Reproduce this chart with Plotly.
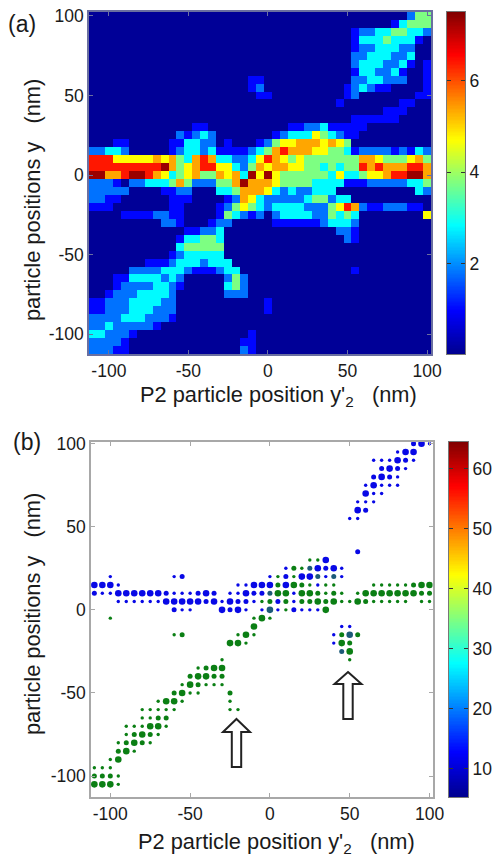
import plotly.graph_objects as go

W, H = 495, 857
FONT = "Liberation Sans"

# Heat map of panel (a): one string per row from y=100 (top) to y=-110, columns x=-110..100
heat_rows = [
 "..... ..... ..... ..... ..... ..... ..... ..... 244",
 "..... ..... ..... ..... ..... ..... ..... ...13 444",
 "..... ..... ..... ..... ..... ..... ...12 23344 332",
 "..... ..... ..... ..... ..... ..... ...13 33433 31.",
 "..... ..... ..... ..... ..... ..... ...12 23332 2..",
 "..... ..... ..... ..... ..... ..... ...22 33322 3..",
 "..... ..... ..... ..... ..... ..... ...23 33223 1.1",
 "..... ..... ..... ..... ..... ..... ...13 32231 ..1",
 "..... ..... ..... ..... 11... ..... ...22 33222 ..1",
 "..... ..... ..... ..... 12... ..... ..123 211.. ..1",
 "..... ..... ..... ..... .11.. ..... ..12. ..... .11",
 "..... ..... ..... ..... ..... ..... .1... ....1 1..",
 "..... ..... ..... ..... ..... ..... ..... ..111 ...",
 "..... ..... ..... ..... ..... ..... ...11 1111. ...",
 "..... ..... ...11 ..... ..... 11223 11111 ..... ...",
 "..... ..... .2123 2.... ...12 33354 3211. ..... ...",
 "...11 ..... 11332 2.1.. .1245 56665 654.. ..... ...",
 "22332 ..... 12332 31111 23467 66655 44312 22212 132",
 "77755 55565 64367 63322 35765 45444 44446 65444 564",
 "77777 77778 64567 75532 46566 55443 43447 67666 776",
 "88667 88765 34564 46563 85854 44444 35334 55677 886",
 "2221. 22333 46422 24468 66654 44433 33111 22222 334",
 "22222 ....1 122.. .3346 66532 32233 3.... ..... .32",
 "2211. ..... 111.. ..126 53222 22344 233.. ..... ...",
 "111.. ..... 11... .1245 43233 33222 45762 11222 11.",
 "....1 11122 11... .1432 12.23 33322 4343. ..... ..5",
 "..... ....2 21... 122.. ...11 11112 3332. ..... ...",
 "..... ..... ..112 23... ..... ..... .221. ..... ...",
 "..... ..... .1334 43... ..... ..... ..21. ..... ...",
 "..... ..... .3444 44... ..... ..... ..... ..... ...",
 "..... ..... 12333 33... ..... ..... ..... ..... ...",
 "..... ..111 23332 333.. ..... ..... ..... ..... ...",
 "..... 22223 33211 1233. ..... ..... ...1. ..... ...",
 "...11 33332 32... ..242 ..... ..... ..... ..... ...",
 "...12 22233 21... ..342 ..... ..... ..... ..... ...",
 "..122 23333 2.... ..222 ..... ..... ..... ..... ...",
 "11222 33332 2.... ..... ..1.. ..... ..... ..... ...",
 "11222 33322 2.... ..... ..1.. ..... ..... ..... ...",
 "22223 33222 1.... ..... ..... ..... ..... ..... ...",
 "22322 2221. ..... ..... ..... ..... ..... ..... ...",
 "33222 1.... ..... ..... 1.... ..... ..... ..... ...",
 "22221 ..... ..... ....1 1.... ..... ..... ..... ...",
 "22211 ..... ..... ....2 1.... ..... ..... ..... ...",
]
heat_values = {".": 0.1, "1": 1.0, "2": 1.8, "3": 2.8, "4": 3.75, "5": 4.7, "6": 5.35, "7": 6.4, "8": 7.3}
heat_x = list(range(-110, 101, 5))
heat_y = list(range(100, -111, -5))
heat_ticks = [2, 4, 6]
heat_range = [0.03, 7.5]

# Dots of panel (b): y -> [(x, size class)]
blue_dots = [
 (100, [(90,2),(95,3),(100,1)]),
 (95, [(80,1),(85,3),(90,3)]),
 (90, [(65,1),(70,1),(75,1),(80,3),(85,2),(90,1)]),
 (85, [(70,2),(75,3),(80,2),(85,1)]),
 (80, [(65,2),(70,3),(75,2),(80,1)]),
 (75, [(60,1),(65,3),(70,1),(75,1),(80,1)]),
 (70, [(60,3),(65,1),(70,1)]),
 (65, [(55,1),(60,1),(65,1)]),
 (60, [(55,3),(60,2)]),
 (55, [(50,1),(55,1)]),
 (35, [(55,2)]),
 (30, [(35,3)]),
 (25, [(10,1),(30,3),(35,2),(40,3),(45,1)]),
 (20, [(-100,1),(-60,1),(-55,2),(0,1),(10,2),(20,3),(25,3),(35,1),(45,1)]),
 (15, [(-110,3),(-105,3),(-100,3),(-95,1),(-20,1),(-15,1),(-10,3),(-5,3),(0,3),(10,3),(30,1)]),
 (10, [(-110,2),(-105,1),(-100,1),(-95,3),(-90,3),(-85,3),(-80,3),(-75,3),(-70,3),(-65,2),(-60,1),(-55,1),(-50,1),(-45,2),(-40,3),(-35,2),(-25,1),(-20,1),(-15,3),(-10,2),(-5,2),(15,1)]),
 (5, [(-95,1),(-90,1),(-85,1),(-80,1),(-75,1),(-70,1),(-65,3),(-60,3),(-55,3),(-50,3),(-45,3),(-40,2),(-35,3),(-30,1),(-25,3),(-20,2),(-15,2),(-10,1),(5,2),(15,1)]),
 (0, [(-60,2),(-55,1),(-50,1),(-30,3),(-25,2),(-20,3),(-15,1),(-5,1),(5,1),(15,2),(20,1),(25,1),(30,1)]),
 (-10, [(45,1),(50,1)]),
 (-15, [(40,1)]),
 (-20, [(40,1)]),
]
green_dots = [
 (30, [(25,1),(30,1)]),
 (25, [(15,2),(20,1)]),
 (20, [(5,1),(15,1)]),
 (15, [(5,2),(15,3),(20,2),(25,1),(35,1),(40,1),(65,1),(70,1),(75,1),(80,1),(85,1),(90,2),(95,3),(100,3)]),
 (10, [(5,3),(10,3),(20,3),(25,3),(30,2),(35,1),(40,2),(45,1),(55,1),(60,3),(65,3),(70,3),(75,3),(80,3),(85,3),(90,3),(95,2),(100,2)]),
 (5, [(-5,1),(0,2),(10,2),(20,2),(25,2),(30,3),(35,2),(40,3),(45,1),(50,1),(55,3),(60,2),(65,1),(70,1),(75,1),(80,1),(85,1),(95,1),(100,1)]),
 (0, [(10,1),(35,3)]),
 (-5, [(-100,1),(-10,1),(-5,3),(0,1)]),
 (-10, [(-10,3)]),
 (-15, [(-60,1),(-55,2),(-20,1),(-15,3),(-10,1),(45,2),(55,2)]),
 (-20, [(-25,3),(-20,3),(-15,1),(45,3),(50,2)]),
 (-25, [(50,3)]),
 (-30, [(-30,1),(50,1)]),
 (-35, [(-45,1),(-40,2),(-35,3),(-30,3)]),
 (-40, [(-50,2),(-45,3),(-40,3),(-35,2),(-30,2)]),
 (-45, [(-55,1),(-50,3),(-45,2),(-40,1),(-35,1),(-30,1)]),
 (-50, [(-60,2),(-55,3),(-50,1),(-45,1),(-25,2)]),
 (-55, [(-70,1),(-65,3),(-60,3),(-55,1),(-25,1)]),
 (-60, [(-80,1),(-75,1),(-70,1),(-65,1),(-60,1),(-25,1),(-20,1)]),
 (-65, [(-80,1),(-75,1),(-70,2),(-65,2)]),
 (-70, [(-90,1),(-85,1),(-80,1),(-75,3),(-70,3),(-65,1)]),
 (-75, [(-90,1),(-85,2),(-80,3),(-75,2),(-70,1)]),
 (-80, [(-95,1),(-90,2),(-85,3),(-80,2),(-75,1)]),
 (-85, [(-95,2),(-90,3),(-85,1)]),
 (-90, [(-100,1),(-95,3)]),
 (-95, [(-110,1),(-105,1),(-100,1)]),
 (-100, [(-110,2),(-105,2),(-100,2),(-95,1)]),
 (-105, [(-110,3),(-105,3),(-100,3),(-95,1)]),
]
overlap_dots = [
 (25, [(25,2)]),
 (20, [(30,2),(40,2)]),
 (10, [(0,2)]),
 (0, [(0,3)]),
 (-15, [(50,3)]),
 (-25, [(45,2)]),
]
dot_ticks = [10, 20, 30, 40, 50, 60]
dot_range = [5.3, 64.5]
axis_ticks = [-100, -50, 0, 50, 100]
axis_labels = ["-100", "-50", "0", "50", "100"]
dot_diameter = {1: 3.4, 2: 5.0, 3: 6.6}

JET = [[0, "rgb(0,0,143)"], [0.125, "rgb(0,0,255)"], [0.375, "rgb(0,255,255)"],
       [0.625, "rgb(255,255,0)"], [0.875, "rgb(255,0,0)"], [1, "rgb(128,0,0)"]]

def px(x): return x / W
def py(y): return 1 - y / H

z = []
for r in heat_rows:
    s = r.replace(" ", "")
    assert len(s) == 43, r
    z.append([heat_values[c] for c in s])

fig = go.Figure()
tickfont = dict(family=FONT, size=17.5, color="#1a1a1a")

fig.add_trace(go.Heatmap(x=heat_x, y=heat_y, z=z, colorscale=JET, zmin=heat_range[0], zmax=heat_range[1],
                         zsmooth=False, xaxis="x", yaxis="y", hoverinfo="skip", showscale=False))

def add_dots(rows, color):
    xs, ys, ss = [], [], []
    for y, pts in rows:
        for x, s in pts:
            xs.append(x); ys.append(y); ss.append(dot_diameter[s])
    fig.add_trace(go.Scatter(x=xs, y=ys, mode="markers", xaxis="x2", yaxis="y2", hoverinfo="skip",
                             marker=dict(size=ss, color=color, opacity=1, line=dict(width=0))))

add_dots(blue_dots, "#0808e6")
add_dots(green_dots, "#0b7f14")
add_dots(overlap_dots, "#1c5a78")

def scale_bar(rng, xa, ya):
    n = 256
    vals = [rng[0] + (rng[1] - rng[0]) * i / (n - 1) for i in range(n)]
    fig.add_trace(go.Heatmap(x=[0, 1], y=vals, z=[[v, v] for v in vals], colorscale=JET, zmin=rng[0], zmax=rng[1],
                             xaxis=xa, yaxis=ya, hoverinfo="skip", showscale=False))

scale_bar(heat_range, "x3", "y3")
scale_bar(dot_range, "x4", "y4")

def axis(domain, rng, color, anchor):
    return dict(domain=domain, range=rng, tickvals=axis_ticks, ticktext=axis_labels, ticks="inside", ticklen=4,
                tickcolor=color, showline=True, linecolor=color, linewidth=1.5, mirror="ticks", showgrid=False,
                zeroline=False, tickfont=tickfont, anchor=anchor, automargin=False)

def bar_x(domain, anchor):
    return dict(domain=domain, range=[-0.5, 1.5], showticklabels=False, ticks="", showgrid=False, zeroline=False,
                showline=True, linecolor="#777", linewidth=1, mirror=True, anchor=anchor, automargin=False)

def bar_y(domain, rng, ticks, anchor):
    return dict(domain=domain, range=rng, side="right", tickvals=ticks, ticks="inside", ticklen=4, tickcolor="#333",
                showgrid=False, zeroline=False, showline=True, linecolor="#777", linewidth=1, mirror="ticks",
                tickfont=tickfont, anchor=anchor, automargin=False)

fig.update_layout(
    template="none",
    width=W, height=H, margin=dict(l=0, r=0, t=0, b=0), autosize=False,
    paper_bgcolor="white", plot_bgcolor="white", showlegend=False,
    xaxis=axis([px(89), px(431)], [-112.5, 102.5], "#6a6fa0", "y"),
    yaxis=axis([py(354), py(12)], [-112.5, 102.5], "#6a6fa0", "x"),
    xaxis2=axis([px(91), px(432.7)], [-112.1, 102], "#a8a8a8", "y2"),
    yaxis2=axis([py(797), py(442)], [-112.6, 101], "#a8a8a8", "x2"),
    xaxis3=bar_x([px(447), px(465)], "y3"),
    yaxis3=bar_y([py(354), py(12)], heat_range, heat_ticks, "x3"),
    xaxis4=bar_x([px(449), px(468)], "y4"),
    yaxis4=bar_y([py(797), py(442)], dot_range, dot_ticks, "x4"),
)

def label(x, y, text, size=21.8, angle=0):
    fig.add_annotation(x=px(x), y=py(y), xref="paper", yref="paper", text=text, showarrow=False,
                       font=dict(family=FONT, size=size, color="#1a1a1a"), textangle=angle,
                       xanchor="center", yanchor="middle")

label(22, 24, "(a)", 23)
label(27, 442, "(b)", 23)
label(278, 396, "P2 particle position y'<sub>2</sub>   (nm)")
label(276, 843, "P2 particle position y'<sub>2</sub>   (nm)")
label(32, 200, "particle positions y   (nm)", angle=-90)
label(32, 614, "particle positions y   (nm)", angle=-90)

def arrow(cx, tip, head, base, hw, sw):
    pts = [(cx, tip), (cx + hw, head), (cx + sw, head), (cx + sw, base), (cx - sw, base), (cx - sw, head), (cx - hw, head)]
    path = "M " + " L ".join(f"{px(a):.5f},{py(b):.5f}" for a, b in pts) + " Z"
    fig.add_shape(type="path", path=path, xref="paper", yref="paper",
                  line=dict(color="#222", width=2), fillcolor="white", layer="above")

arrow(236.5, 719, 732, 767, 13.5, 4.7)
arrow(348, 672, 684, 719, 13.5, 4.7)

fig.write_html("out.html", config=dict(displayModeBar=False),
               post_script="document.body.style.margin='0';document.documentElement.style.overflow='hidden';")
